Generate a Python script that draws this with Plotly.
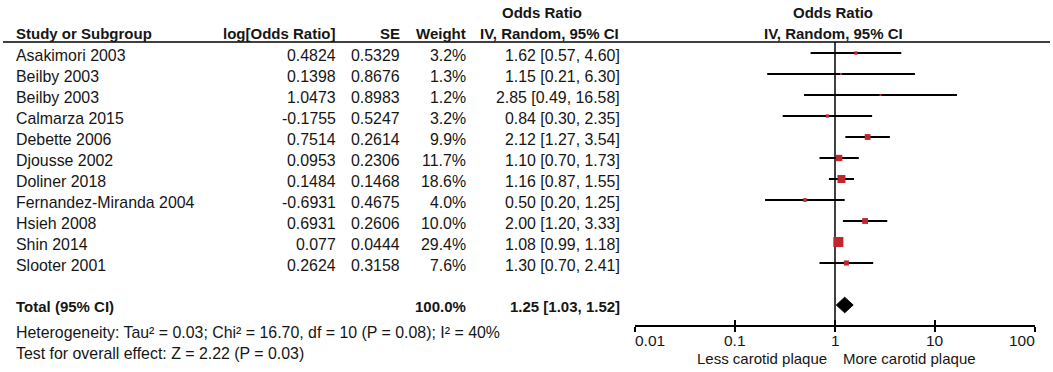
import math
import plotly.graph_objects as go

# ---------------- data ----------------
studies = ["Asakimori 2003", "Beilby 2003", "Beilby 2003", "Calmarza 2015", "Debette 2006",
           "Djousse 2002", "Doliner 2018", "Fernandez-Miranda 2004", "Hsieh 2008",
           "Shin 2014", "Slooter 2001"]
log_or = [0.4824, 0.1398, 1.0473, -0.1755, 0.7514, 0.0953, 0.1484, -0.6931, 0.6931, 0.077, 0.2624]
se = [0.5329, 0.8676, 0.8983, 0.5247, 0.2614, 0.2306, 0.1468, 0.4675, 0.2606, 0.0444, 0.3158]
weight = [3.2, 1.3, 1.2, 3.2, 9.9, 11.7, 18.6, 4.0, 10.0, 29.4, 7.6]
or_est = [1.62, 1.15, 2.85, 0.84, 2.12, 1.10, 1.16, 0.50, 2.00, 1.08, 1.30]
or_lo = [0.57, 0.21, 0.49, 0.30, 1.27, 0.70, 0.87, 0.20, 1.20, 0.99, 0.70]
or_hi = [4.60, 6.30, 16.58, 2.35, 3.54, 1.73, 1.55, 1.25, 3.33, 1.18, 2.41]
total_label = "Total (95% CI)"
total_weight = 100.0
total_or = 1.25
total_lo = 1.03
total_hi = 1.52
heterogeneity = "Heterogeneity: Tau\u00b2 = 0.03; Chi\u00b2 = 16.70, df = 10 (P = 0.08); I\u00b2 = 40%"
overall = "Test for overall effect: Z = 2.22 (P = 0.03)"
tick_vals = [0.01, 0.1, 1, 10, 100]
tick_text = ["0.01", "0.1", "1", "10", "100"]
favours_left = "Less carotid plaque"
favours_right = "More carotid plaque"

# ---------------- layout constants ----------------
W, H = 1053, 372
ROW0_PX, ROW_PX = 53, 21          # pixel of first row, pixels per row
y_top = -ROW0_PX / ROW_PX
y_bot = (H - ROW0_PX) / ROW_PX
FONT = "Liberation Sans, Arial, sans-serif"
TXT = "#161616"
RED = "#C0272D"
REG = 15.9
BOLD = 15

rows = list(range(len(studies)))
total_row = 12
axis_row = 13
header_line_row = -0.52
fx0, fx1 = 635 / W, 1035 / W

fig = go.Figure()

# CI lines
cx, cy = [], []
for r, lo, hi in zip(rows, or_lo, or_hi):
    cx += [lo, hi, None]
    cy += [r, r, None]
fig.add_trace(go.Scatter(x=cx, y=cy, mode="lines", line=dict(color="black", width=2),
                         hoverinfo="skip", showlegend=False))

# vertical line of no effect
fig.add_trace(go.Scatter(x=[1, 1], y=[header_line_row, axis_row], mode="lines",
                         line=dict(color="black", width=1.5), hoverinfo="skip", showlegend=False))

# study squares
fig.add_trace(go.Scatter(x=or_est, y=rows, mode="markers",
                         marker=dict(symbol="square", color=RED, opacity=1,
                                     size=[1.85 * math.sqrt(w) for w in weight],
                                     line=dict(width=0)),
                         showlegend=False))

# total diamond
dh = 0.37
fig.add_trace(go.Scatter(x=[total_lo, total_or, total_hi, total_or, total_lo],
                         y=[total_row, total_row - dh, total_row, total_row + dh, total_row],
                         mode="lines", fill="toself", fillcolor="black",
                         line=dict(color="black", width=1), showlegend=False))

annotations = []


def txt(x_px, row, text, anchor="left", bold=False, size=None):
    annotations.append(dict(
        x=x_px / W, xref="paper", y=row, yref="y",
        text=f"<b>{text}</b>" if bold else text,
        xanchor=anchor, yanchor="middle", showarrow=False,
        borderpad=0, borderwidth=0,
        font=dict(family=FONT, size=size or (BOLD if bold else REG), color=TXT)))


# headers
txt(16, -0.95, "Study or Subgroup", bold=True)
txt(336, -0.95, "log[Odds Ratio]", anchor="right", bold=True)
txt(400, -0.95, "SE", anchor="right", bold=True)
txt(466, -0.95, "Weight", anchor="right", bold=True)
txt(542, -1.95, "Odds Ratio", anchor="center", bold=True)
txt(550, -0.95, "IV, Random, 95% CI", anchor="center", bold=True)
txt(833, -1.95, "Odds Ratio", anchor="center", bold=True)
txt(833, -0.95, "IV, Random, 95% CI", anchor="center", bold=True)

# rows
for r, s, lo_, se_, w, e, lo, hi in zip(rows, studies, log_or, se, weight, or_est, or_lo, or_hi):
    yy = r + 0.1
    txt(16, yy, s)
    txt(336, yy, str(lo_), anchor="right")
    txt(400, yy, f"{se_:.4f}", anchor="right")
    txt(466, yy, f"{w:.1f}%", anchor="right")
    txt(620, yy, f"{e:.2f} [{lo:.2f}, {hi:.2f}]", anchor="right")

# total row
txt(16, total_row + 0.05, total_label, bold=True)
txt(466, total_row + 0.05, f"{total_weight:.1f}%", anchor="right", bold=True)
txt(620, total_row + 0.05, f"{total_or:.2f} [{total_lo:.2f}, {total_hi:.2f}]", anchor="right", bold=True)

txt(16, 13.29, heterogeneity)
txt(16, 14.29, overall)

# tick labels (annotation x on log axis is log10)
anchors = ["left"] + ["center"] * (len(tick_vals) - 2) + ["right"]
for v, t, a in zip(tick_vals, tick_text, anchors):
    annotations.append(dict(x=math.log10(v), xref="x", y=13.7, yref="y", text=t,
                            xanchor=a, yanchor="middle", showarrow=False,
                            borderpad=0, borderwidth=0,
                            font=dict(family=FONT, size=15.5, color=TXT)))

txt(827, 14.57, favours_left, anchor="right", size=15)
txt(843, 14.57, favours_right, anchor="left", size=15)

# header rule
shapes = [dict(type="line", xref="paper", yref="y", x0=3 / W, x1=1050 / W,
               y0=header_line_row, y1=header_line_row, line=dict(color="black", width=1.5))]

axis_pos = 1 - (ROW0_PX + axis_row * ROW_PX) / H
common_axis = dict(type="log", range=[math.log10(tick_vals[0]), math.log10(tick_vals[-1])],
                   domain=[fx0, fx1], anchor="free", position=axis_pos,
                   showline=True, linecolor="black", linewidth=1.5,
                   tickvals=tick_vals, showticklabels=False, showgrid=False,
                   tickcolor="black", tickwidth=1.5, ticklen=5, fixedrange=True)

fig.update_layout(
    width=W, height=H,
    margin=dict(l=0, r=0, t=0, b=0),
    paper_bgcolor="white", plot_bgcolor="white",
    xaxis=dict(**common_axis, ticks="outside"),
    xaxis2=dict(**common_axis, ticks="inside", overlaying="x", matches="x"),
    yaxis=dict(range=[y_bot, y_top], domain=[0, 1], visible=False, fixedrange=True),
    annotations=annotations,
    shapes=shapes,
    showlegend=False,
)
# dummy invisible trace so xaxis2 is drawn
fig.add_trace(go.Scatter(x=[1], y=[axis_row], xaxis="x2", mode="markers",
                         marker=dict(opacity=0), hoverinfo="skip", showlegend=False))

fig.write_html("out.html", config={"displayModeBar": False},
               post_script="document.body.style.margin='0px';document.body.style.overflow='hidden';")
